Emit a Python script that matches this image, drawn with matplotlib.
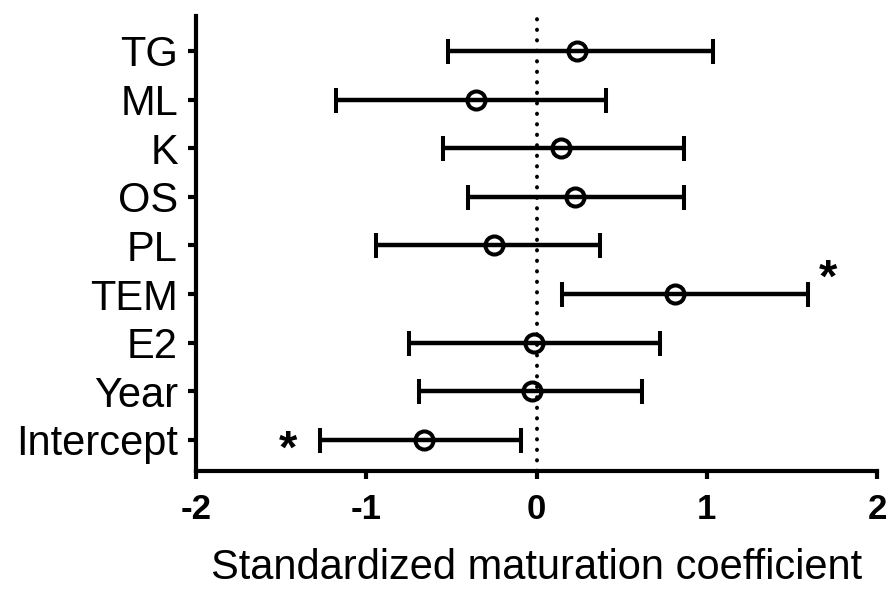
import matplotlib
matplotlib.use("Agg")
import matplotlib.pyplot as plt
import numpy as np

# coefficients, top row first
labels = ["TG", "ML", "K", "OS", "PL", "TEM", "E2", "Year", "Intercept"]
coef = [0.237, -0.357, 0.141, 0.224, -0.248, 0.811, -0.013, -0.024, -0.659]
low = [-0.52, -1.18, -0.549, -0.403, -0.941, 0.149, -0.749, -0.693, -1.272]
high = [1.035, 0.408, 0.869, 0.869, 0.371, 1.592, 0.728, 0.621, -0.093]

# significance stars: (row label, x position, vertical shift in rows)
stars = [("TEM", 1.71, 0.30), ("Intercept", -1.46, -0.22)]

plt.rcParams['font.family'] = ['Liberation Sans', 'DejaVu Sans']

fig = plt.figure(figsize=(8.89, 5.90), dpi=100)
ax = fig.add_axes([0.2205, 0.2017, 0.766, 0.7712])

n = len(labels)
ypos = np.arange(n, 0, -1)
coef = np.array(coef)
xerr = np.vstack([coef - np.array(low), np.array(high) - coef])

ax.axvline(0, color='black', lw=2.8, linestyle=(0, (0.1, 2.6)),
           dash_capstyle='round', zorder=1)
ax.errorbar(coef, ypos, xerr=xerr, fmt='o', color='black', mfc='none',
            ms=13, mew=2.9, elinewidth=3.2, capsize=9, capthick=3.2, zorder=3)

for name, x, dy in stars:
    y = ypos[labels.index(name)]
    ax.text(x, y + dy, '*', fontsize=34, fontweight='bold',
            ha='center', va='center')

ax.set_xlim(-2, 2)
ax.set_ylim(0.36, n + 0.72)
ax.set_xticks([-2, -1, 0, 1, 2])
ax.set_xticklabels(['-2', '-1', '0', '1', '2'], fontweight='bold', fontsize=25)
ax.set_yticks(ypos)
ax.set_yticklabels(labels, fontsize=30)
ax.set_xlabel('Standardized maturation coefficient', fontsize=30, labelpad=16)

for side in ['top', 'right']:
    ax.spines[side].set_visible(False)
for side in ['left', 'bottom']:
    ax.spines[side].set_linewidth(3.0)
ax.tick_params(axis='both', direction='out', length=6, width=3.0)
ax.tick_params(axis='x', pad=10)
ax.tick_params(axis='y', pad=7)

fig.savefig('out.png', dpi=100)
